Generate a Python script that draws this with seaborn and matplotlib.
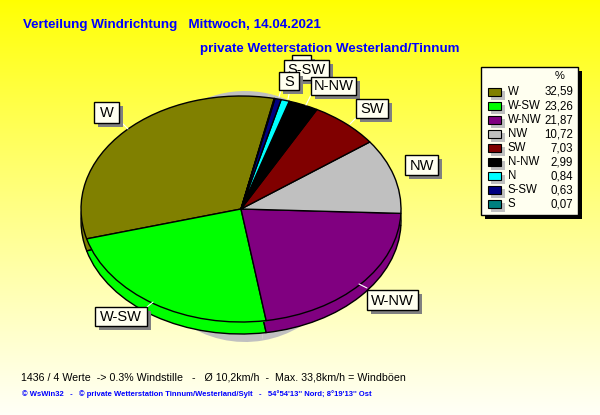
import numpy as np
import matplotlib
matplotlib.use("Agg")
import matplotlib.pyplot as plt
from matplotlib.patches import Rectangle
import seaborn as sns

directions = ["W", "W-SW", "W-NW", "NW", "SW", "N-NW", "N", "S-SW", "S"]
percent = [32.59, 23.26, 21.87, 10.72, 7.03, 2.99, 0.84, 0.63, 0.07]
percent_labels = ["32,59", "23,26", "21,87", "10,72", "7,03", "2,99", "0,84", "0,63", "0,07"]
colors = ["#808000", "#00ff00", "#800080", "#c0c0c0", "#800000", "#000000", "#00ffff", "#000080", "#008080"]

title = "Verteilung Windrichtung   Mittwoch, 14.04.2021"
subtitle = "private Wetterstation Westerland/Tinnum"
stats = "1436 / 4 Werte  -> 0.3% Windstille   -   Ø 10,2km/h  -  Max. 33,8km/h = Windböen"
footer = "© WsWin32   -   © private Wetterstation Tinnum/Westerland/Sylt   -   54°54'13'' Nord; 8°19'13'' Ost"

sns.set_theme(style="white")
plt.rcParams["font.family"] = ["Liberation Sans", "DejaVu Sans"]
palette = sns.color_palette(colors)

W, H = 600, 415
fig = plt.figure(figsize=(6, 4.15), dpi=100)

# whole figure in pixel coordinates
bg = fig.add_axes([0, 0, 1, 1])
bg.set_xlim(0, W)
bg.set_ylim(H, 0)
bg.axis("off")
grad = np.linspace(0, 1, 256).reshape(-1, 1)
rgb = np.ones((256, 1, 3))
rgb[:, :, 2] = grad ** 0.9 * 0.97
bg.imshow(rgb, extent=[0, W, H, 0], aspect="auto", zorder=0)


def pie_axes(cx, cy, rx, ry, z):
    ax = fig.add_axes([(cx - rx) / W, 1 - (cy + ry) / H, 2 * rx / W, 2 * ry / H], zorder=z)
    ax.patch.set_alpha(0)
    return ax


def draw_pie(ax, cols, edge):
    ax.pie(percent, colors=cols, startangle=78, counterclock=True, radius=1,
           wedgeprops=dict(edgecolor=edge, linewidth=1))
    ax.set_aspect("auto")
    ax.set_xlim(-1, 1)
    ax.set_ylim(-1, 1)
    ax.axis("off")


cx, cy, rx, ry = 241, 209, 160, 113
depth = 12

# grey shadow behind the pie
shadow = pie_axes(cx + 4, cy + 7.5, 115, ry + 12.5, 1)
draw_pie(shadow, ["#c0c0c0"] * len(percent), "none")

# side of the pie, stacked copies
for d in range(depth, 0, -1):
    side = pie_axes(cx, cy + d, rx, ry, 2)
    draw_pie(side, palette, "none")
side = pie_axes(cx, cy + depth, rx, ry, 2)
draw_pie(side, palette, "black")
rim = pie_axes(cx, cy + 1, rx, ry, 2)
draw_pie(rim, palette, "none")

top = pie_axes(cx, cy, rx, ry, 3)
draw_pie(top, palette, "black")

# overlay for the labels and the legend
ov = fig.add_axes([0, 0, 1, 1], zorder=5)
ov.set_xlim(0, W)
ov.set_ylim(H, 0)
ov.axis("off")
ov.patch.set_alpha(0)

cream = "#fffff0"


def box(x0, y0, x1, y1, z, shadow_col="#808080", off=4):
    ov.add_patch(Rectangle((x0 + off, y0 + off), x1 - x0, y1 - y0, fc=shadow_col, ec="none", zorder=z))
    ov.add_patch(Rectangle((x0, y0), x1 - x0, y1 - y0, fc=cream, ec="black", lw=1, zorder=z + 0.1))


# label boxes: name -> left, top, right, bottom, draw order
label_boxes = {
    "N": (292, 55, 311, 72, 10),
    "S-SW": (284, 60, 329, 80, 11),
    "N-NW": (311, 77, 356, 95, 12),
    "SW": (356, 99, 388, 118, 13),
    "NW": (405, 155, 438, 175, 14),
    "S": (279, 72, 299, 90, 15),
    "W": (94, 102, 119, 123, 16),
    "W-SW": (95, 307, 147, 326, 17),
    "W-NW": (367, 290, 418, 310, 18),
}
leaders = {
    "W": ((122, 123), (128, 129)),
    "S-SW": ((279, 97), (281, 90)),
    "N": ((288, 99), (290, 90)),
    "N-NW": ((306, 105), (311, 95)),
    "SW": ((350, 124), (356, 118)),
    "W-SW": ((147, 307), (153, 302)),
    "W-NW": ((359, 284), (367, 288)),
}
for name, (a, b) in leaders.items():
    ov.plot([a[0], b[0]], [a[1], b[1]], color="white", lw=0.8, zorder=9)
for name, (x0, y0, x1, y1, z) in label_boxes.items():
    box(x0, y0, x1, y1, z)
    # the N box sits behind the S-SW box, its text is covered in the original
    if name != "N":
        ov.text((x0 + x1) / 2, (y0 + y1) / 2 + 0.5, name, ha="center", va="center",
                fontsize=10.5, color="black", zorder=z + 0.2)

# legend
box(481, 67, 578, 215, 20, shadow_col="black", off=4)
ov.text(560, 76, "%", ha="center", va="center", fontsize=8, color="black", zorder=21)
for i, (name, lab) in enumerate(zip(directions, percent_labels)):
    y = 92 + 14 * i
    ov.add_patch(Rectangle((491, y - 1), 14, 9, fc="#c0c0c0", ec="none", zorder=21))
    ov.add_patch(Rectangle((488, y - 4), 13, 8, fc=palette[i], ec="black", lw=0.8, zorder=22))
    ov.text(508, y, name, ha="left", va="center", fontsize=8.3, color="black", zorder=22)
    ov.text(573, y, lab, ha="right", va="center", fontsize=8.3, color="black", zorder=22)

# titles and footer
ov.text(23, 25, title, ha="left", va="center", fontsize=9.6, fontweight="bold", color="#0000ff", zorder=30)
ov.text(200, 49, subtitle, ha="left", va="center", fontsize=9.6, fontweight="bold", color="#0000ff", zorder=30)
ov.text(21, 377, stats, ha="left", va="center", fontsize=7.7, color="black", zorder=30)
ov.text(22, 394, footer, ha="left", va="center", fontsize=5.5, fontweight="bold", color="#0000ff", zorder=30)

fig.savefig("out.png", dpi=100)
